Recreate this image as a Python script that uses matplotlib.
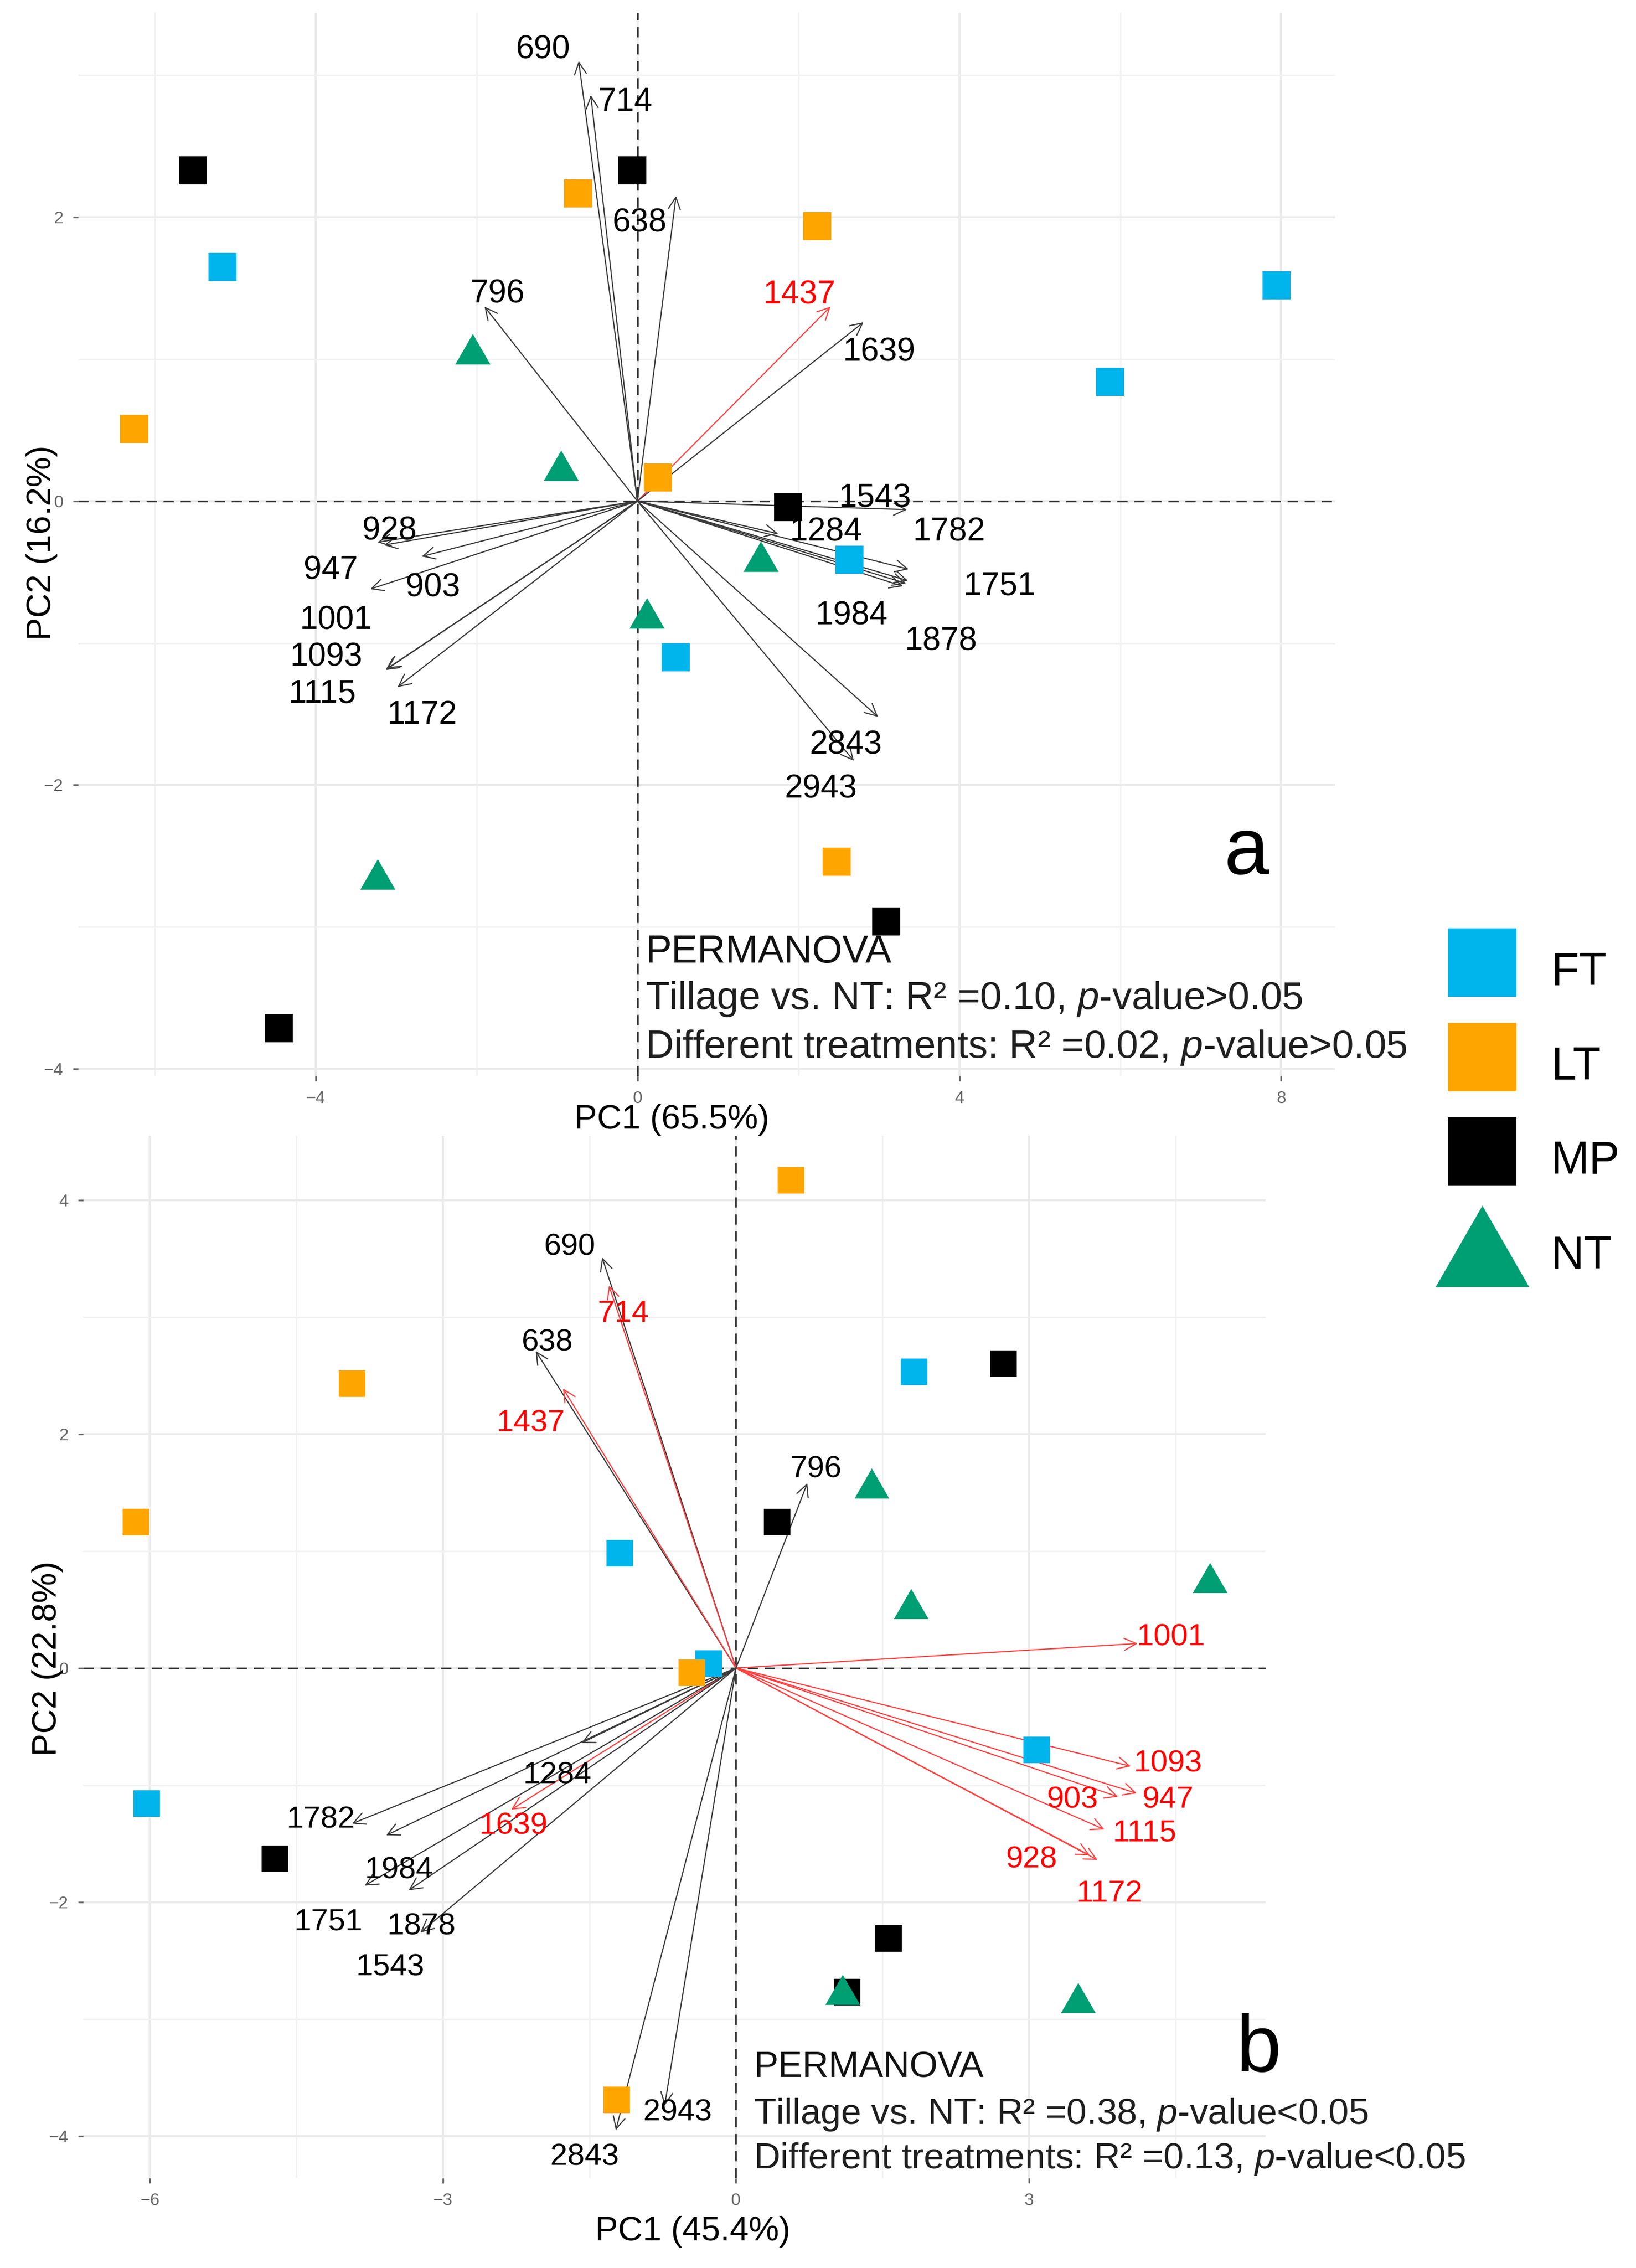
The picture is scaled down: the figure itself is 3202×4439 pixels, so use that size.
import matplotlib
matplotlib.use("Agg")
import matplotlib.pyplot as plt
from matplotlib.lines import Line2D

plt.rcParams["font.family"] = ["Liberation Sans", "DejaVu Sans"]
plt.rcParams["mathtext.fontset"] = "custom"
plt.rcParams["mathtext.rm"] = "Liberation Sans"
plt.rcParams["mathtext.it"] = "Liberation Sans:italic"

groups = ["FT", "LT", "MP", "NT"]
group_colors = {"FT": "#00B4EC", "LT": "#FFA500", "MP": "#000000", "NT": "#009E73"}

# ---- panel a: sample scores ----
a_x = {
    "FT": [-5.16, 7.94, 5.87, 2.63, 0.47],
    "LT": [-0.74, -6.26, 2.23, 0.25, 2.47],
    "MP": [-5.53, -0.07, 1.87, 3.09, -4.46],
    "NT": [-2.05, -0.95, 1.53, 0.12, -3.23],
}
a_y = {
    "FT": [1.65, 1.52, 0.84, -0.41, -1.10],
    "LT": [2.17, 0.51, 1.94, 0.17, -2.54],
    "MP": [2.33, 2.33, -0.04, -2.96, -3.71],
    "NT": [1.07, 0.25, -0.39, -0.79, -2.63],
}
# ---- panel a: loadings (arrow tips) and label spots ----
a_vars = ["690", "714", "638", "796", "1437", "1639", "1543", "1284", "1782",
          "1751", "1984", "1878", "2843", "2943", "928", "947", "903", "1001",
          "1093", "1115", "1172"]
a_tip_x = [-0.73, -0.58, 0.48, -1.90, 2.40, 2.81, 3.35, 1.75, 3.37,
           3.34, 3.30, 3.36, 2.69, 2.99, -3.23, -3.32, -2.68, -3.15,
           -3.11, -3.13, -2.98]
a_tip_y = [3.10, 2.86, 2.15, 1.37, 1.37, 1.26, -0.06, -0.23, -0.48,
           -0.58, -0.60, -0.56, -1.83, -1.52, -0.29, -0.62, -0.39, -0.31,
           -1.18, -1.19, -1.31]
a_lab_x = [-1.17, -0.15, 0.03, -1.74, 2.01, 3.00, 2.95, 2.34, 3.87,
           4.50, 2.66, 3.77, 2.59, 2.28, -3.08, -3.81, -2.54, -3.75,
           -3.87, -3.92, -2.68]
a_lab_y = [3.18, 2.81, 1.96, 1.46, 1.45, 1.05, 0.02, -0.22, -0.22,
           -0.60, -0.81, -0.99, -1.72, -2.03, -0.21, -0.49, -0.61, -0.84,
           -1.10, -1.36, -1.51]
a_red = ["1437"]
a_stats = ["PERMANOVA",
           "Tillage vs. NT: R\u00b2 =0.10, $\\mathit{p}$-value>0.05",
           "Different treatments: R\u00b2 =0.02, $\\mathit{p}$-value>0.05"]

# ---- panel b: sample scores ----
b_x = {
    "FT": [-1.19, -0.28, 1.82, 3.08, -6.03],
    "LT": [-3.93, -6.14, 0.56, -0.45, -1.22],
    "MP": [2.74, 0.42, -4.72, 1.56, 1.14],
    "NT": [1.39, 1.79, 4.85, 1.09, 3.50],
}
b_y = {
    "FT": [0.98, 0.04, 2.53, -0.70, -1.16],
    "LT": [2.43, 1.25, 4.17, -0.04, -3.69],
    "MP": [2.60, 1.25, -1.63, -2.31, -2.77],
    "NT": [1.58, 0.55, 0.77, -2.75, -2.82],
}
b_vars = ["690", "714", "638", "1437", "796", "1001", "1093", "947", "903",
          "1115", "928", "1172", "1284", "1782", "1639", "1984", "1751",
          "1878", "1543", "2843", "2943"]
b_tip_x = [-1.37, -1.30, -2.05, -1.77, 0.73, 4.11, 4.04, 4.10, 3.91,
           3.77, 3.62, 3.70, -1.58, -3.93, -2.30, -3.58, -3.80,
           -3.35, -3.23, -1.23, -0.73]
b_tip_y = [3.51, 3.27, 2.71, 2.39, 1.58, 0.21, -0.84, -1.07, -1.10,
           -1.38, -1.60, -1.64, -0.64, -1.33, -1.21, -1.43, -1.86,
           -1.90, -2.26, -3.95, -3.74]
b_lab_x = [-1.70, -1.15, -1.93, -2.10, 0.82, 4.45, 4.42, 4.42, 3.44,
           4.18, 3.02, 3.82, -1.83, -4.25, -2.28, -3.45, -4.17,
           -3.22, -3.54, -1.55, -0.60]
b_lab_y = [3.60, 3.03, 2.78, 2.09, 1.70, 0.26, -0.82, -1.13, -1.13,
           -1.41, -1.64, -1.93, -0.92, -1.30, -1.35, -1.73, -2.17,
           -2.21, -2.56, -4.18, -3.80]
b_red = ["714", "1437", "1001", "1093", "947", "903", "1115", "928", "1172", "1639"]
b_stats = ["PERMANOVA",
           "Tillage vs. NT: R\u00b2 =0.38, $\\mathit{p}$-value<0.05",
           "Different treatments: R\u00b2 =0.13, $\\mathit{p}$-value<0.05"]

TRI = [(-1, -0.87), (1, -0.87), (0, 0.87), (-1, -0.87)]
W, H = 3202, 4439


def draw_panel(ax, xs, ys, names, tx, ty, lx, ly, red, sq, tri, lab_fs,
               xlim, ylim, xmaj, xmin, ymaj, ymin):
    ax.set_xlim(*xlim)
    ax.set_ylim(*ylim)
    ax.set_xticks(xmaj)
    ax.set_xticks(xmin, minor=True)
    ax.set_yticks(ymaj)
    ax.set_yticks(ymin, minor=True)
    ax.grid(which="major", color="#EBEBEB", lw=1.0, zorder=0)
    ax.grid(which="minor", color="#F2F2F2", lw=0.7, zorder=0)
    ax.set_axisbelow(True)
    for s in ax.spines.values():
        s.set_visible(False)
    ax.tick_params(which="major", length=2.5, width=0.8, color="#666666",
                   labelcolor="#666666", labelsize=8, pad=4.5)
    ax.tick_params(which="minor", length=0)

    ax.axhline(0, color="#333333", lw=0.8, ls=(0, (6, 4)), zorder=2)
    ax.axvline(0, color="#333333", lw=0.8, ls=(0, (6, 4)), zorder=2)

    for v, x, y in zip(names, tx, ty):
        col = "#FF4040" if v in red else "#3a3a3a"
        ax.annotate("", xy=(x, y), xytext=(0, 0), zorder=3,
                    arrowprops=dict(arrowstyle="->", color=col, lw=0.55,
                                    mutation_scale=14, shrinkA=0, shrinkB=0))

    for g in groups:
        if g == "NT":
            ax.plot(xs[g], ys[g], linestyle="none", marker=TRI, ms=tri,
                    color=group_colors[g], mew=0, zorder=4)
        else:
            ax.plot(xs[g], ys[g], linestyle="none", marker="s", ms=sq,
                    color=group_colors[g], mew=0, zorder=4)

    for v, x, y in zip(names, lx, ly):
        ax.text(x, y, v, fontsize=lab_fs, ha="center", va="center",
                color="red" if v in red else "black", zorder=5)


fig = plt.figure(figsize=(W / 300, H / 300), dpi=300)
ax1 = fig.add_axes([153 / W, 1 - 2106 / H, (2613 - 153) / W, (2106 - 25) / H])
ax2 = fig.add_axes([163 / W, 1 - 4263 / H, (2477 - 163) / W, (4263 - 2223) / H])

draw_panel(ax1, a_x, a_y, a_vars, a_tip_x, a_tip_y, a_lab_x, a_lab_y, a_red,
           13.2, 16.5, 15.3, (-6.95, 8.67), (-4.05, 3.44),
           [-4, 0, 4, 8], [-6, -2, 2, 6], [-4, -2, 0, 2], [-3, -1, 1, 3])
draw_panel(ax2, b_x, b_y, b_vars, b_tip_x, b_tip_y, b_lab_x, b_lab_y, b_red,
           12.7, 16.3, 14.5, (-6.68, 5.42), (-4.36, 4.55),
           [-6, -3, 0, 3], [-4.5, -1.5, 1.5, 4.5], [-4, -2, 0, 2, 4], [-3, -1, 1, 3])

# PERMANOVA notes and panel letters
for i, (s, yy) in enumerate(zip(a_stats, [-3.18, -3.51, -3.85])):
    ax1.text(0.1, yy, s, fontsize=18.3, ha="left", va="center",
             color="#111111" if i == 0 else "#1f1f1f", zorder=6, clip_on=False)
for i, (s, yy) in enumerate(zip(b_stats, [-3.42, -3.82, -4.20])):
    ax2.text(0.18, yy, s, fontsize=17.1, ha="left", va="center",
             color="#111111" if i == 0 else "#1f1f1f", zorder=6, clip_on=False)
ax1.text(7.57, -2.48, "a", fontsize=38, ha="center", va="center", zorder=6)
ax2.text(5.35, -3.27, "b", fontsize=38, ha="center", va="center", zorder=6,
         clip_on=False)

# axis titles
fig.text(1315 / W, 1 - 2192 / H, "PC1 (65.5%)", fontsize=16, ha="center", va="center")
fig.text(82 / W, 1 - 1062 / H, "PC2 (16.2%)", fontsize=16, ha="center", va="center",
         rotation=90)
fig.text(1356 / W, 1 - 4368 / H, "PC1 (45.4%)", fontsize=16, ha="center", va="center")
fig.text(93 / W, 1 - 3246 / H, "PC2 (22.8%)", fontsize=16, ha="center", va="center",
         rotation=90)

# legend
handles = []
for g in groups:
    if g == "NT":
        handles.append(Line2D([], [], linestyle="none", marker=TRI, ms=44,
                              color=group_colors[g], mew=0))
    else:
        handles.append(Line2D([], [], linestyle="none", marker="s", ms=32,
                              color=group_colors[g], mew=0))
fig.legend(handles, groups, loc="center left", bbox_to_anchor=(0.878, 0.5098),
           frameon=False, fontsize=21.5, handlelength=2.0, handleheight=1.6,
           labelspacing=0.78, handletextpad=0.5, borderpad=0, borderaxespad=0,
           numpoints=1)

fig.savefig("out.png", dpi=300, facecolor="white")
